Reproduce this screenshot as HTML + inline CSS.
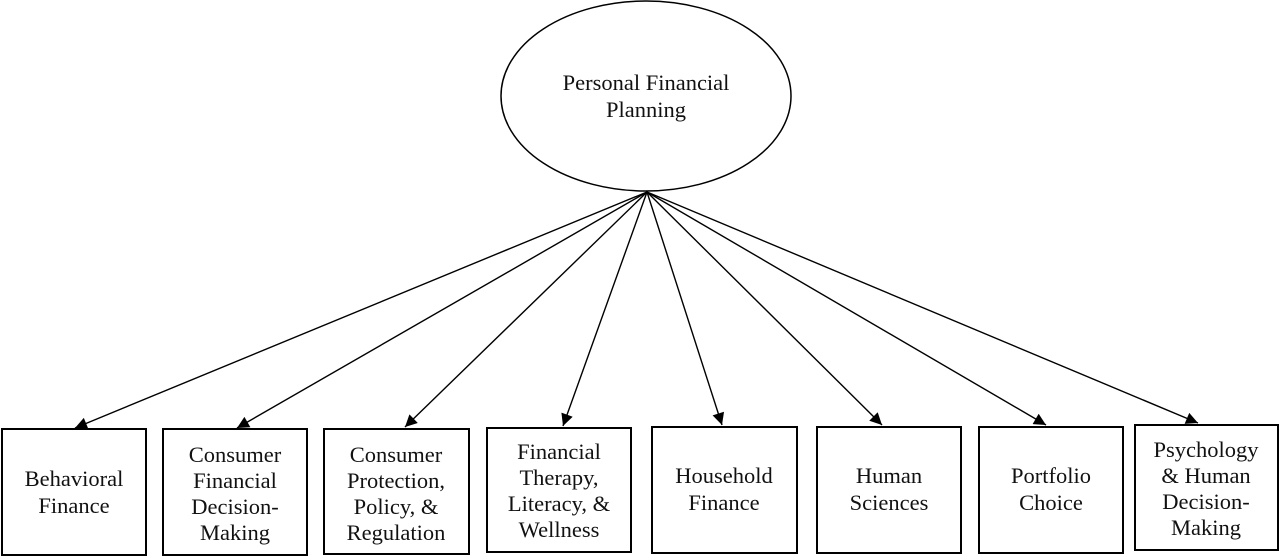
<!DOCTYPE html>
<html><head><meta charset="utf-8"><style>
html,body{margin:0;padding:0;background:#fff;width:1280px;height:556px;overflow:hidden}
text{font-family:"Liberation Serif",serif;font-size:22.5px;fill:#111}
</style></head><body>
<svg width="1280" height="556" viewBox="0 0 1280 556" xmlns="http://www.w3.org/2000/svg">
<defs><marker id="a" viewBox="0 0 10 10" refX="10" refY="5" markerWidth="14" markerHeight="12" markerUnits="userSpaceOnUse" orient="auto"><path d="M0,0 L10,5 L0,10 z" fill="#000"/></marker></defs>
<ellipse cx="646" cy="96" rx="145" ry="95" fill="none" stroke="#000" stroke-width="1.5"/>
<text x="646" y="90" text-anchor="middle">Personal Financial</text>
<text x="646" y="117" text-anchor="middle">Planning</text>
<g stroke="#000" stroke-width="1.4" marker-end="url(#a)">
<line x1="647" y1="192" x2="75" y2="428"/>
<line x1="647" y1="192" x2="237" y2="428"/>
<line x1="647" y1="192" x2="405" y2="427"/>
<line x1="647" y1="192" x2="563" y2="426"/>
<line x1="647" y1="192" x2="722" y2="425"/>
<line x1="647" y1="192" x2="882" y2="425"/>
<line x1="647" y1="192" x2="1046" y2="425"/>
<line x1="647" y1="192" x2="1198" y2="423"/>
</g>
<g fill="none" stroke="#000" stroke-width="2">
<rect x="2" y="429" width="144" height="126"/>
<rect x="163" y="429" width="144" height="126"/>
<rect x="324" y="429" width="145" height="125"/>
<rect x="487" y="428" width="144" height="124"/>
<rect x="652" y="427" width="145" height="126"/>
<rect x="817" y="427" width="144" height="126"/>
<rect x="979" y="427" width="144" height="126"/>
<rect x="1135" y="425" width="143" height="125"/>
</g>
<g text-anchor="middle">
<text x="74" y="486">Behavioral</text><text x="74" y="513">Finance</text>
<text x="235" y="462">Consumer</text><text x="235" y="488">Financial</text><text x="235" y="514">Decision-</text><text x="235" y="540">Making</text>
<text x="396" y="462">Consumer</text><text x="396" y="488">Protection,</text><text x="396" y="514">Policy, &amp;</text><text x="396" y="540">Regulation</text>
<text x="559" y="459">Financial</text><text x="559" y="485">Therapy,</text><text x="559" y="511">Literacy, &amp;</text><text x="559" y="537">Wellness</text>
<text x="724" y="483">Household</text><text x="724" y="510">Finance</text>
<text x="889" y="483">Human</text><text x="889" y="510">Sciences</text>
<text x="1051" y="483">Portfolio</text><text x="1051" y="510">Choice</text>
<text x="1206" y="457">Psychology</text><text x="1206" y="483">&amp; Human</text><text x="1206" y="509">Decision-</text><text x="1206" y="535">Making</text>
</g>
</svg>
</body></html>
